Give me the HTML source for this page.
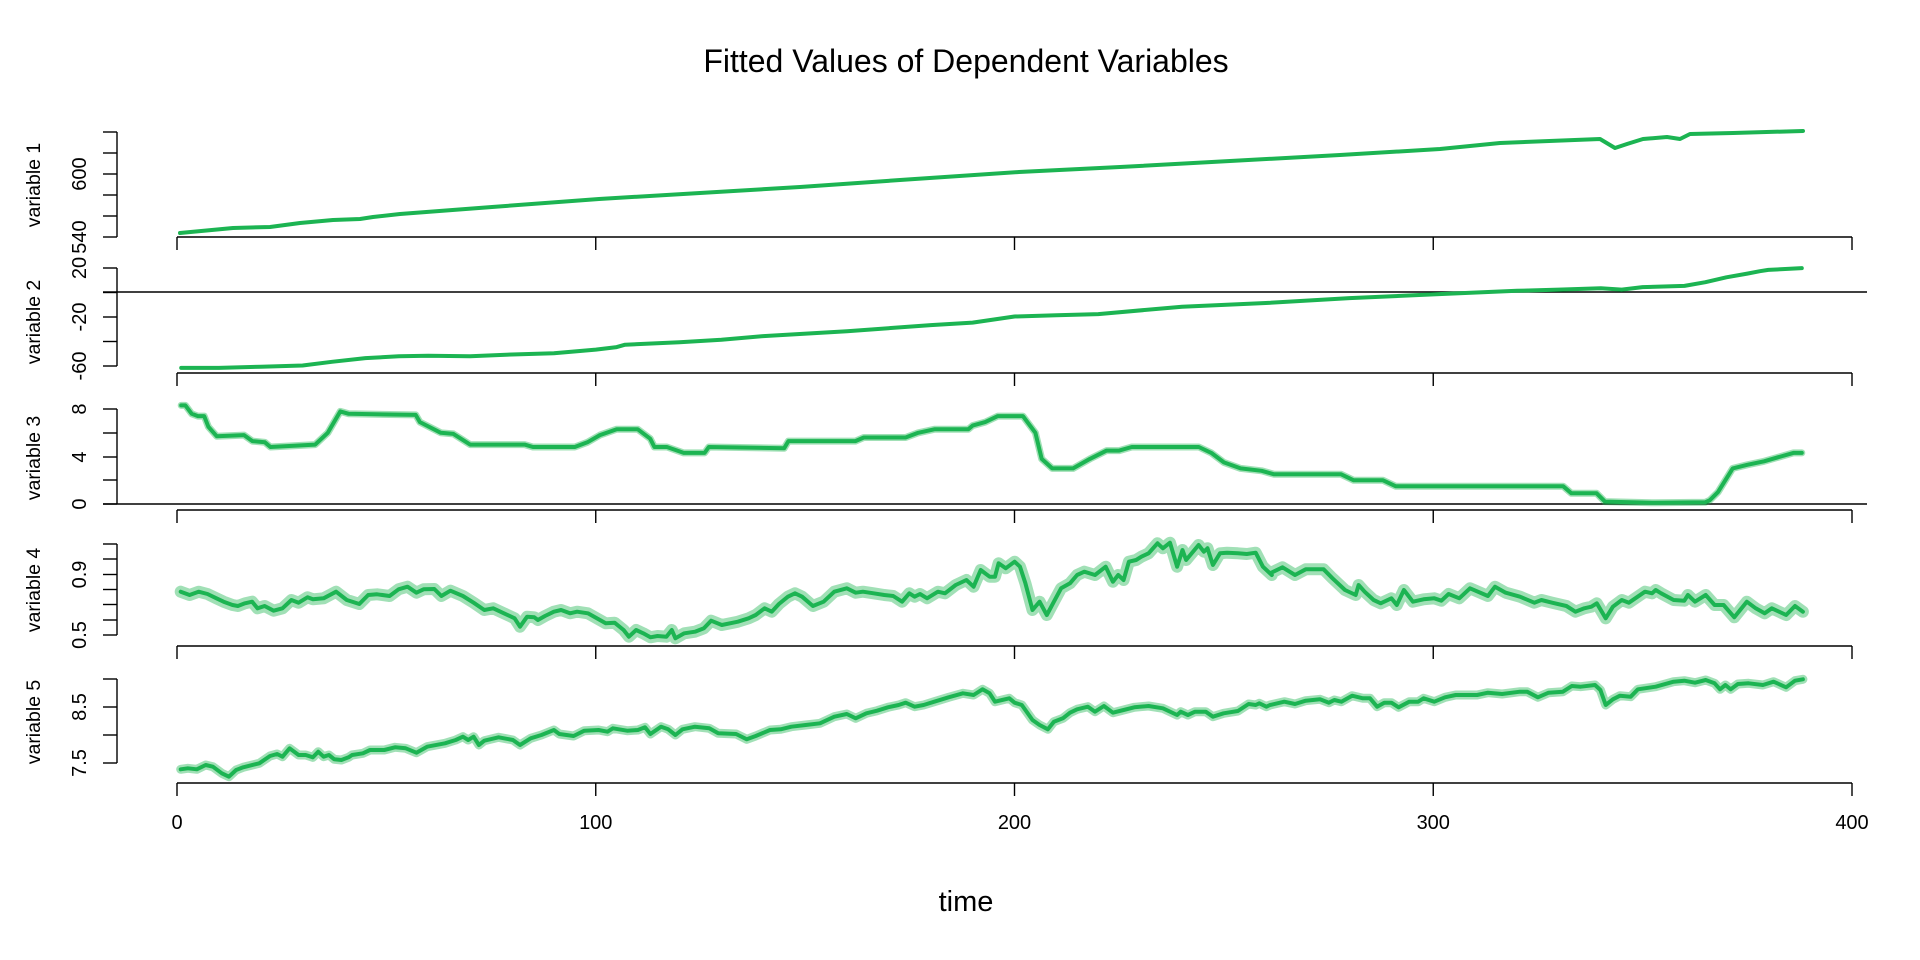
<!DOCTYPE html>
<html><head><meta charset="utf-8"><style>
html,body{margin:0;padding:0;background:#fff;}
svg{display:block;font-family:"Liberation Sans",Arial,sans-serif;}
</style></head><body>
<svg id="s" width="1920" height="960" viewBox="0 0 1920 960" xmlns="http://www.w3.org/2000/svg">
<text x="966" y="72" font-size="32" text-anchor="middle">Fitted Values of Dependent Variables</text>
<text x="966" y="911" font-size="29" text-anchor="middle">time</text>
<g id="ax" stroke="#000" stroke-width="1.4" fill="none"></g>
<g id="lb" font-size="20" text-anchor="middle"></g>
<g id="ln" fill="none" stroke-linejoin="round" stroke-linecap="round"></g>
</svg>
<script>
var NS="http://www.w3.org/2000/svg";
function el(p,t,a,txt){var e=document.createElementNS(NS,t);for(var k in a)e.setAttribute(k,a[k]);if(txt!=null)e.textContent=txt;document.getElementById(p).appendChild(e);return e;}
function line(x1,y1,x2,y2){el('ax','line',{x1:x1,y1:y1,x2:x2,y2:y2});}
var xa=[237,373,510,646,783];
xa.forEach(function(y){line(177,y,1852,y);for(var i=0;i<=4;i++){var x=177+i*418.75;line(x,y,x,y+13);}});
[0,100,200,300,400].forEach(function(v,i){el('lb','text',{x:177+i*418.75,y:829},String(v));});
line(103,292,1867,292);line(103,504,1867,504);
function yaxis(ticks,labels){line(117,ticks[0],117,ticks[ticks.length-1]);ticks.forEach(function(y){line(103,y,117,y);});
 labels.forEach(function(l){el('lb','text',{x:0,y:0,transform:'translate(86,'+l[0]+') rotate(-90)'},l[1]);});}
yaxis([132,153,174,195,216,237],[[174,'600'],[237,'540']]);
yaxis([268,292.5,317,341.5,366],[[268,'20'],[317,'-20'],[366,'-60']]);
yaxis([409,433,457,480,504],[[409,'8'],[457,'4'],[504,'0']]);
yaxis([544,559,574.5,589.5,604.5,620,635],[[574.5,'0.9'],[635,'0.5']]);
yaxis([679,707,735,763],[[707,'8.5'],[763,'7.5']]);
var yl=[[185,'variable 1'],[322,'variable 2'],[458,'variable 3'],[590,'variable 4'],[722,'variable 5']];
yl.forEach(function(l){el('lb','text',{x:0,y:0,'font-size':19.5,transform:'translate(40,'+l[0]+') rotate(-90)'},l[1]);});
function tx(t){return 177+4.1875*t;}
function pts(a){return a.map(function(p){return p[0].toFixed(1)+','+p[1].toFixed(1);}).join(' ');}
function draw(p,bw,lw){
 if(bw)el('ln','polyline',{points:pts(p),stroke:'rgba(30,180,80,0.42)','stroke-width':bw});
 el('ln','polyline',{points:pts(p),stroke:'#1cb452','stroke-width':lw});}
var p1=[[180,233],[233,228],[270,227],[300,223],[333,220],[360,219],[373,217],[400,214],[492,207],[599,199],[700,193],[800,187],[900,180],[1019,172],[1120,167],[1230,161],[1340,155],[1440,149],[1500,143],[1600,139],[1615,148],[1627,144],[1643,139],[1667,137],[1680,139],[1690,134],[1733,133],[1803,131]];
draw(p1,0,4);
var d2=[[1,-62],[10,-62],[20,-61],[30,-60],[37,-57],[45,-54],[53,-52.5],[60,-52],[70,-52.5],[80,-51],[90,-50],[100,-47],[105,-45],[107,-43],[120,-41],[130,-39],[140,-36],[160,-32],[180,-27],[190,-25],[200,-20],[210,-19],[220,-18],[240,-12],[260,-9],[280,-5],[300,-2],[320,1],[330,2],[340,3],[345,2],[350,4],[360,5],[365,8],[370,12],[375,15],[378,17],[380,18],[388,19.5]];
draw(d2.map(function(p){return [tx(p[0]),292-1.225*p[1]];}),0,4);
var d3=[[1,8.3],[2,8.3],[3.5,7.6],[5,7.4],[6.5,7.4],[7.5,6.5],[9.5,5.7],[16,5.8],[18,5.3],[21,5.2],[22.3,4.8],[33,5.0],[36,6.0],[39,7.8],[41,7.6],[57,7.5],[58,6.9],[63,6.0],[66,5.9],[70,5.0],[83,5.0],[85,4.8],[95,4.8],[98,5.2],[101,5.8],[105,6.3],[110,6.3],[113,5.5],[114,4.8],[117,4.8],[121,4.3],[126,4.3],[127,4.8],[145,4.7],[146,5.3],[162,5.3],[164,5.6],[174,5.6],[177,6.0],[181,6.3],[189,6.3],[190,6.6],[193,6.9],[196,7.4],[202,7.4],[205,6.0],[206.5,3.8],[209,3.0],[214,3.0],[218,3.8],[222,4.5],[225,4.5],[228,4.8],[244,4.8],[247,4.3],[250,3.5],[254,3.0],[259,2.8],[262,2.5],[278,2.5],[281,2.0],[288,2.0],[291,1.5],[331,1.5],[333,0.9],[339,0.9],[341,0.2],[353,0.1],[365,0.15],[366,0.3],[368,1.0],[371.5,3.0],[375,3.3],[379,3.6],[383,4.0],[386,4.3],[388,4.3]];
draw(d3.map(function(p){return [tx(p[0]),504-11.875*p[1]];}),7,4);
function cv(ox,oy,a){return a.map(function(p){return [ox+p[0]/2.8,oy+p[1]/3];});}
var a4=cv(170,530,[[30,185],[55,195],[80,185],[105,192],[130,205],[150,215],[175,225],[190,228],[210,220],[230,215],[245,235],[265,228],[290,242],[315,235],[340,210],[360,218],[385,202],[400,208],[430,205],[465,185],[495,210],[530,222],[555,195],[580,193],[615,198],[640,178],[665,170],[690,188],[710,178],[740,177],[760,198],[785,182],[820,198],[850,218],[880,240],[905,235],[935,250],[965,265],[980,290],[1000,260],[1020,262],[1030,270],[1050,258],[1075,245],[1095,240],[1120,250],[1140,245],[1170,250],[1195,265],[1220,280],[1245,278],[1270,300],[1285,320],[1305,300],[1325,310],[1345,322],[1365,318],[1390,320],[1405,300],[1415,325],[1440,310],[1470,305],[1495,295],[1515,272],[1545,285]])
.concat(cv(720,530,[[50,275],[80,265],[100,255],[125,235],[145,245],[165,222],[190,200],[210,190],[230,200],[260,228],[290,215],[320,185],[355,175],[380,188],[400,185],[430,190],[460,195],[485,198],[510,215],[530,190],[545,200],[560,192],[580,205],[610,185],[630,190],[660,165],[690,150],[710,170],[730,120],[755,140],[770,140],[780,100],[800,115],[825,95],[840,110],[855,160],[875,240],[895,215],[915,255],[935,215],[955,175],[980,160],[1000,135],[1020,125],[1050,135],[1080,110],[1100,155],[1115,135],[1130,150],[1145,95],[1165,90],[1180,80],[1200,70],[1225,40],[1240,55],[1260,38],[1280,110],[1295,60],[1305,90],[1340,45],[1355,65],[1365,55],[1380,105],[1400,70],[1420,68],[1450,70],[1475,72],[1500,68],[1520,110],[1545,135]]))
.concat(cv(1270,530,[[0,130],[35,112],[70,135],[100,118],[150,118],[175,145],[210,180],[240,195],[248,165],[265,185],[290,210],[310,220],[340,205],[355,225],[375,180],[400,215],[430,208],[460,205],[480,212],[500,192],[530,205],[560,175],[610,198],[630,170],[660,188],[700,200],[740,218],[760,210],[790,218],[830,228],[855,245],[880,235],[900,230],[915,220],[940,265],[960,230],[985,210],[1005,218],[1050,185],[1070,190],[1080,180],[1095,190],[1130,210],[1160,212],[1170,195],[1190,215],[1220,195],[1245,225],[1270,225],[1300,262],[1335,215],[1360,235],[1385,250],[1405,235],[1445,255],[1470,228],[1492,245]]));
draw(a4,12,4);
var a5=cv(170,530,[[30,718],[50,715],[75,718],[100,705],[120,710],[145,730],[165,740],[185,720],[205,712],[250,700],[280,678],[300,672],[315,680],[335,655],[360,675],[380,675],[400,682],[415,665],[430,680],[445,675],[460,688],[480,690],[500,682],[510,675],[540,670],[560,660],[600,660],[630,652],[660,655],[690,668],[720,650],[770,640],[800,630],[820,620],[835,630],[850,620],[865,645],[880,632],[920,622],[960,630],[980,645],[1010,625],[1040,615],[1075,600],[1090,612],[1130,618],[1160,602],[1200,600],[1225,605],[1240,595],[1280,602],[1310,600],[1330,592],[1345,612],[1375,590],[1395,598],[1415,615],[1435,598],[1470,590],[1510,595],[1535,610]])
.concat(cv(720,530,[[45,612],[75,628],[100,618],[140,600],[170,598],[200,590],[240,585],[280,580],[320,560],[355,552],[380,565],[410,550],[440,542],[470,532],[500,525],[520,518],[545,530],[570,525],[600,515],[640,502],[680,490],[710,495],[735,478],[755,490],[770,515],[790,510],[810,505],[825,518],[845,525],[875,570],[895,585],[918,598],[935,575],[960,565],[980,548],[1000,538],[1030,530],[1050,545],[1075,528],[1100,548],[1130,540],[1160,532],[1200,528],[1240,535],[1280,555],[1290,545],[1310,555],[1330,545],[1360,545],[1380,560],[1410,550],[1450,543],[1480,522],[1500,525],[1510,520],[1530,530]]))
.concat(cv(1270,530,[[0,525],[40,515],[70,522],[100,512],[140,508],[165,518],[180,510],[200,515],[230,497],[260,505],[280,505],[300,530],[320,518],[340,518],[360,532],[390,515],[415,515],[430,505],[460,515],[490,502],[520,495],[580,495],[610,488],[650,492],[700,485],[720,485],[750,502],[780,488],[820,485],[845,468],[870,470],[910,465],[925,480],[940,525],[960,508],[980,497],[1010,500],[1030,478],[1080,470],[1130,455],[1160,452],[1190,458],[1220,450],[1245,460],[1260,478],[1275,465],[1290,478],[1310,462],[1340,460],[1380,465],[1410,455],[1445,472],[1470,452],[1492,448]]));
draw(a5,9,4);
</script>
</body></html>
